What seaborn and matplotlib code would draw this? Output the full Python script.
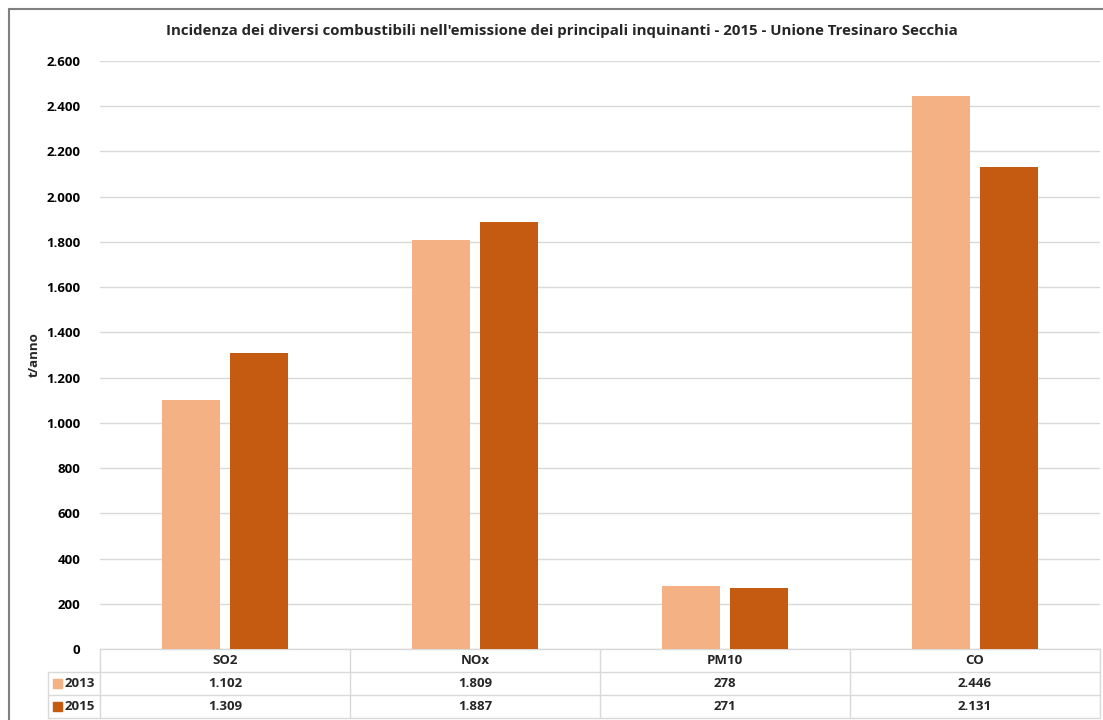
import matplotlib
matplotlib.use("Agg")
import matplotlib.pyplot as plt
import numpy as np
import pandas as pd
import seaborn as sns
from matplotlib.patches import Rectangle
from matplotlib.lines import Line2D

# data (t/anno)
inquinanti = ["SO2", "NOx", "PM10", "CO"]
anni = ["2013", "2015"]
val_2013 = [1102, 1809, 278, 2446]
val_2015 = [1309, 1887, 271, 2131]
y_ticks = list(range(0, 2601, 200))

colori = {"2013": "#F4B183", "2015": "#C55A11"}
grigio = "#D9D9D9"

sns.set_theme(style="white")
plt.rcParams["font.family"] = ["Open Sans", "DejaVu Sans"]

FS = 9.5


def fmt_it(v):
    # Italian thousands separator
    return f"{v:,}".replace(",", ".")


df = pd.DataFrame({
    "Inquinante": inquinanti * 2,
    "Anno": [anni[0]] * len(inquinanti) + [anni[1]] * len(inquinanti),
    "t": val_2013 + val_2015,
})

W, H = 1103, 720
fig = plt.figure(figsize=(W / 100, H / 100), dpi=100)
ax = fig.add_axes([100 / W, 71 / H, 1000 / W, 588 / H])

sns.barplot(data=df, x="Inquinante", y="t", hue="Anno", palette=colori,
            width=0.545, gap=0.16, saturation=1, linewidth=0,
            legend=False, ax=ax, zorder=3)

ax.set_xlim(-0.5, len(inquinanti) - 0.5)
ax.set_ylim(0, 2600)
ax.set_yticks(y_ticks)
ax.set_yticklabels([fmt_it(t) for t in y_ticks], fontsize=FS, fontweight="bold")
ax.set_xticks([])
ax.set_xlabel("")
ax.set_ylabel("t/anno", fontsize=FS, fontweight="bold", labelpad=4)
ax.tick_params(axis="y", length=0, pad=14, colors="black")
ax.yaxis.grid(True, color=grigio, lw=1, zorder=0)
ax.set_axisbelow(True)
for s in ax.spines.values():
    s.set_visible(False)

fig.text(562 / W, 1 - 31 / H,
         "Incidenza dei diversi combustibili nell'emissione dei principali inquinanti - 2015 - Unione Tresinaro Secchia",
         ha="center", va="center", fontsize=10.8, fontweight="bold")

# ─── data table under the chart ───────────────────────────────────────────────
h = 23 / 588
lab = -52 / 1000
kw = dict(transform=ax.transAxes, color=grigio, lw=1, clip_on=False)

ax.add_line(Line2D([0, 1], [0, 0], **kw))
for k in (1, 2, 3):
    ax.add_line(Line2D([lab, 1], [-k * h, -k * h], **kw))
for i in range(len(inquinanti) + 1):
    ax.add_line(Line2D([i / 4, i / 4], [0, -3 * h], **kw))
ax.add_line(Line2D([lab, lab], [-h, -3 * h], **kw))

for i, nome in enumerate(inquinanti):
    xc = (i + 0.5) / len(inquinanti)
    ax.text(xc, -0.5 * h, nome, transform=ax.transAxes, ha="center", va="center",
            fontsize=FS, fontweight="bold")
    for r, serie in enumerate((val_2013, val_2015)):
        ax.text(xc, -(r + 1.5) * h, fmt_it(serie[i]), transform=ax.transAxes,
                ha="center", va="center", fontsize=FS, fontweight="bold")

for r, anno in enumerate(anni):
    yc = -(r + 1.5) * h
    ax.add_patch(Rectangle((-47 / 1000, yc - 4.5 / 588), 9 / 1000, 9 / 588,
                           transform=ax.transAxes, color=colori[anno], clip_on=False))
    ax.text(-35 / 1000, yc, anno, transform=ax.transAxes, ha="left", va="center",
            fontsize=FS, fontweight="bold")

# chart frame (left and top edges)
fig.add_artist(Line2D([9 / W, 9 / W], [0, 1 - 9 / H], transform=fig.transFigure, color="#808080", lw=1.5))
fig.add_artist(Line2D([9 / W, 1], [1 - 9 / H, 1 - 9 / H], transform=fig.transFigure, color="#808080", lw=1.5))

plt.savefig("out.png", dpi=100)
plt.close()
